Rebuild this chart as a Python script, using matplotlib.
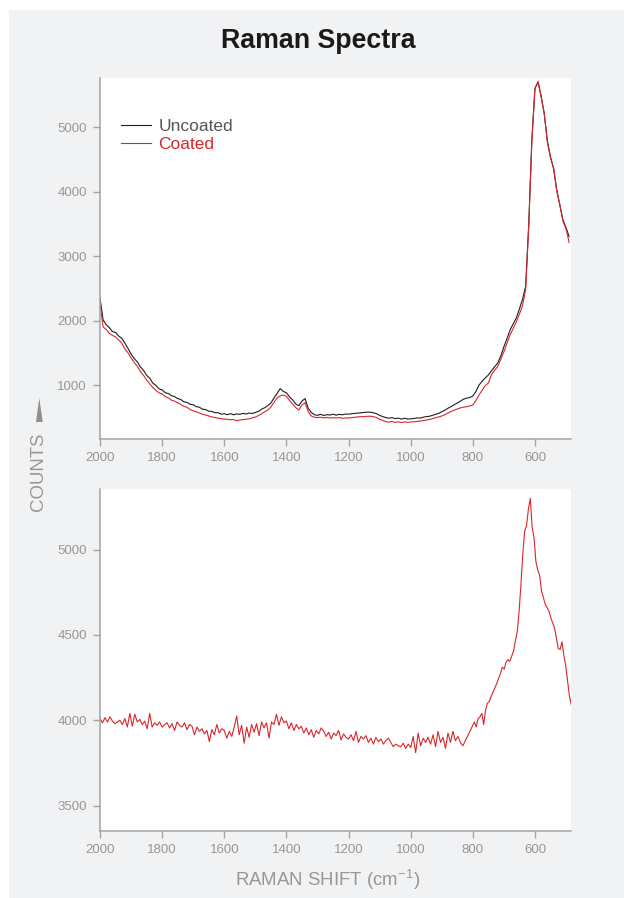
# -*- coding: utf-8 -*-
# Raman spectra, uncoated vs coated, and the difference spectrum below
import matplotlib
matplotlib.use('Agg')
import matplotlib.pyplot as plt
from matplotlib.patches import Rectangle, Polygon
import numpy as np

# %% Data
# top panel : both spectra on a 10 cm-1 grid, 2000 -> 490 cm-1
uncoated = [2350, 2010, 1935, 1890, 1830, 1815, 1760, 1725, 1650, 1570,
            1480, 1410, 1360, 1280, 1230, 1150, 1105, 1030, 995, 940,
            925, 880, 868, 835, 820, 790, 775, 740, 730, 700,
            695, 665, 655, 625, 620, 595, 590, 570, 572, 548,
            555, 540, 556, 538, 552, 545, 560, 550, 566, 558,
            575, 590, 625, 648, 680, 720, 800, 870, 945, 900,
            880, 815, 770, 705, 680, 750, 790, 640, 575, 540,
            530, 545, 528, 540, 535, 548, 532, 545, 538, 550,
            548, 555, 560, 565, 570, 575, 580, 578, 570, 555,
            530, 510, 495, 485, 495, 478, 488, 470, 485, 472,
            475, 480, 490, 488, 500, 510, 515, 530, 545, 560,
            586, 610, 640, 665, 695, 720, 750, 780, 798, 805,
            830, 900, 1000, 1060, 1110, 1155, 1220, 1280, 1341, 1450,
            1594, 1720, 1853, 1950, 2039, 2180, 2330, 2530, 3500, 4800,
            5600, 5690, 5480, 5200, 4780, 4540, 4350, 4030, 3790, 3560,
            3440, 3300]
coated = [2280, 1900, 1860, 1800, 1770, 1744, 1700, 1650, 1560, 1500,
          1420, 1350, 1290, 1210, 1150, 1078, 1020, 960, 915, 880,
          860, 820, 800, 765, 750, 725, 700, 670, 655, 620,
          600, 585, 565, 548, 535, 520, 505, 495, 485, 478,
          472, 468, 462, 465, 445, 458, 462, 470, 475, 488,
          504, 525, 555, 585, 612, 660, 730, 800, 830, 845,
          825, 760, 705, 650, 612, 690, 726, 590, 520, 500,
          495, 500, 490, 498, 488, 493, 490, 495, 485, 490,
          488, 495, 500, 505, 510, 509, 515, 516, 510, 495,
          470, 450, 431, 425, 435, 420, 430, 418, 428, 420,
          426, 430, 435, 440, 448, 457, 465, 478, 490, 505,
          519, 540, 565, 590, 610, 628, 645, 655, 664, 675,
          690, 760, 845, 920, 990, 1031, 1160, 1230, 1284, 1400,
          1516, 1650, 1775, 1880, 1982, 2100, 2230, 2480, 3450, 4780,
          5600, 5710, 5460, 5210, 4760, 4520, 4370, 4010, 3800, 3540,
          3420, 3210]
shift_top = np.linspace(2000, 490, len(uncoated))

# bottom panel : baseline part (8 cm-1 steps, 2000 -> 832) then the band (6 cm-1 steps, 795 -> 483)
bas_vals = [4010, 3985, 4015, 3990, 4020, 3995, 3980, 3990, 4000, 3975,
            4010, 3960, 4040, 3965, 4035, 3990, 4005, 3975, 3995, 3950,
            4040, 3960, 3985, 3970, 3990, 3960, 3975, 3985, 3955, 3980,
            3940, 3990, 3970, 3960, 3985, 3945, 3975, 3965, 3915, 3960,
            3935, 3950, 3920, 3940, 3875, 3945, 3915, 3975, 3925, 3950,
            3940, 3895, 3935, 3905, 3960, 4025, 3915, 3970, 3865, 3960,
            3900, 3975, 3930, 3980, 3910, 3990, 3955, 3985, 3895, 3990,
            3975, 4035, 3970, 4020, 3985, 3995, 3950, 3985, 3940, 3975,
            3950, 3965, 3925, 3955, 3915, 3945, 3900, 3940, 3920, 3955,
            3935, 3905, 3930, 3890, 3925, 3910, 3940, 3885, 3920, 3900,
            3890, 3915, 3880, 3935, 3870, 3905, 3890, 3910, 3870, 3895,
            3860, 3900, 3875, 3890, 3860, 3880, 3895, 3870, 3845, 3860,
            3850, 3845, 3865, 3835, 3860, 3840, 3905, 3810, 3925, 3850,
            3895, 3870, 3900, 3860, 3915, 3845, 3935, 3870, 3900, 3835,
            3925, 3870, 3935, 3880, 3905, 3870, 3850]
band_vals = [3990, 3960, 4010, 4020, 4040, 3975, 4060, 4100, 4110, 4140,
             4165, 4190, 4215, 4245, 4275, 4310, 4300, 4340, 4355, 4345,
             4375, 4405, 4465, 4520, 4640, 4800, 4980, 5110, 5140, 5240,
             5300, 5130, 5070, 4930, 4880, 4850, 4760, 4720, 4680, 4660,
             4640, 4600, 4570, 4540, 4480, 4420, 4415, 4460, 4380, 4320,
             4230, 4140, 4090]
shift_bas = np.arange(2000, 830, -8)
shift_band = np.arange(795, 480, -6)
diff_shift = np.concatenate([shift_bas, shift_band])
diff_vals = np.array(bas_vals + band_vals)

xticks = [2000, 1800, 1600, 1400, 1200, 1000, 800, 600]

# %% Style
plt.rcParams['font.family'] = ['Liberation Sans', 'DejaVu Sans']
grey_txt = '#979797'
spine_col = '#a3a3a3'
red = '#d8262c'
black = '#1e1e1e'
bg = '#f1f2f4'

W, H = 624, 898
fig = plt.figure(figsize=(W / 100, H / 100), dpi=100, facecolor='white')
fig.patches.append(Rectangle((9 / W, 0), 1 - 9 / W, 1 - 10 / H, transform=fig.transFigure,
                             facecolor=bg, edgecolor='none', zorder=-5))

ax1 = fig.add_axes([100 / W, 1 - 439 / H, 471 / W, 361 / H])
ax2 = fig.add_axes([100 / W, 1 - 831 / H, 471 / W, 342 / H])


def style_ax(ax):
    ax.set_facecolor('white')
    for s in ['top', 'right']:
        ax.spines[s].set_visible(False)
    for s in ['left', 'bottom']:
        ax.spines[s].set_color(spine_col)
        ax.spines[s].set_linewidth(1.1)
    ax.tick_params(axis='both', direction='out', length=5, width=1, color=spine_col,
                   labelsize=9.5, labelcolor=grey_txt, pad=4.5)
    ax.set_xticks(xticks)
    ax.set_xlim(2000, 484)


# top panel
ax1.plot(shift_top, uncoated, color=black, linewidth=0.8, label='Uncoated')
ax1.plot(shift_top, coated, color=red, linewidth=0.8, label='Coated')
style_ax(ax1)
ax1.set_ylim(163, 5760)
ax1.set_yticks([1000, 2000, 3000, 4000, 5000])
leg = ax1.legend(loc='upper left', bbox_to_anchor=(0.0446, 0.888), frameon=False,
                 fontsize=12.5, handlelength=1.75, handletextpad=0.4, labelspacing=0.18,
                 borderpad=0, borderaxespad=0, labelcolor=['#555555', red])

# bottom panel
ax2.plot(diff_shift, diff_vals, color=red, linewidth=0.8)
style_ax(ax2)
ax2.set_ylim(3351, 5355)
ax2.set_yticks([3500, 4000, 4500, 5000])

# %% Texts
fig.text(318 / W, 1 - 41 / H, 'Raman Spectra', ha='center', va='center',
         fontsize=19.3, fontweight='bold', color='#1a1a1a')
fig.text(328 / W, 1 - 880 / H, r'RAMAN SHIFT (cm$^{\mathregular{-1}}$)', ha='center', va='center',
         fontsize=13.4, color=grey_txt)
fig.text(38.5 / W, 1 - 472 / H, 'COUNTS', rotation=90, ha='center', va='center',
         fontsize=13.4, color=grey_txt)
fig.patches.append(Polygon([(36 / W, 1 - 422 / H), (42.7 / W, 1 - 422 / H), (39.3 / W, 1 - 398 / H)],
                           closed=True, transform=fig.transFigure, facecolor='#8f8f8f',
                           edgecolor='none', zorder=2))

fig.savefig('out.png', dpi=100, facecolor=fig.get_facecolor())
